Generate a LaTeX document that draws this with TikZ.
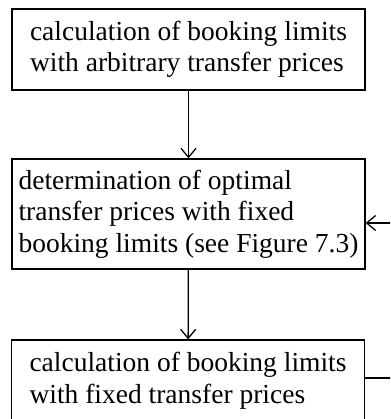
\documentclass[tikz,border=0pt]{standalone}
\usepackage{fontspec}
\setmainfont{Liberation Serif}
\usetikzlibrary{arrows.meta}
\tikzset{
  box/.style={draw, line width=1.3pt, minimum width=353pt, align=left, inner sep=0pt,
    font=\fontsize{27.5}{31.5}\selectfont},
  conn/.style={line width=1.3pt, -{Straight Barb[length=9pt,width=15pt,line width=1.3pt]}}
}
\begin{document}
\begin{tikzpicture}[x=1pt,y=1pt]
\useasboundingbox (0,0) rectangle (390,419);
\clip (0,0) rectangle (390,419);
\node[box, minimum height=81pt] (b1) at (188.5,369.5) {calculation of booking limits\\with arbitrary transfer prices};
\node[box, minimum height=110pt] (b2) at (188.5,205) {determination of optimal\\transfer prices with fixed\\booking limits (see Figure 7.3)};
\node[box, minimum height=81pt] (b3) at (188,38.5) {calculation of booking limits\\with fixed transfer prices};
\coordinate (c1) at (410,41);
\coordinate (c2) at (410,196);
\draw[conn] (b1) -- (b2);
\draw[conn] (b2) -- (b3);
\draw[conn] ([yshift=2.5pt]b3.east) -- (c1) -- (c2) -- ([yshift=-9pt]b2.east);
\end{tikzpicture}
\end{document}
